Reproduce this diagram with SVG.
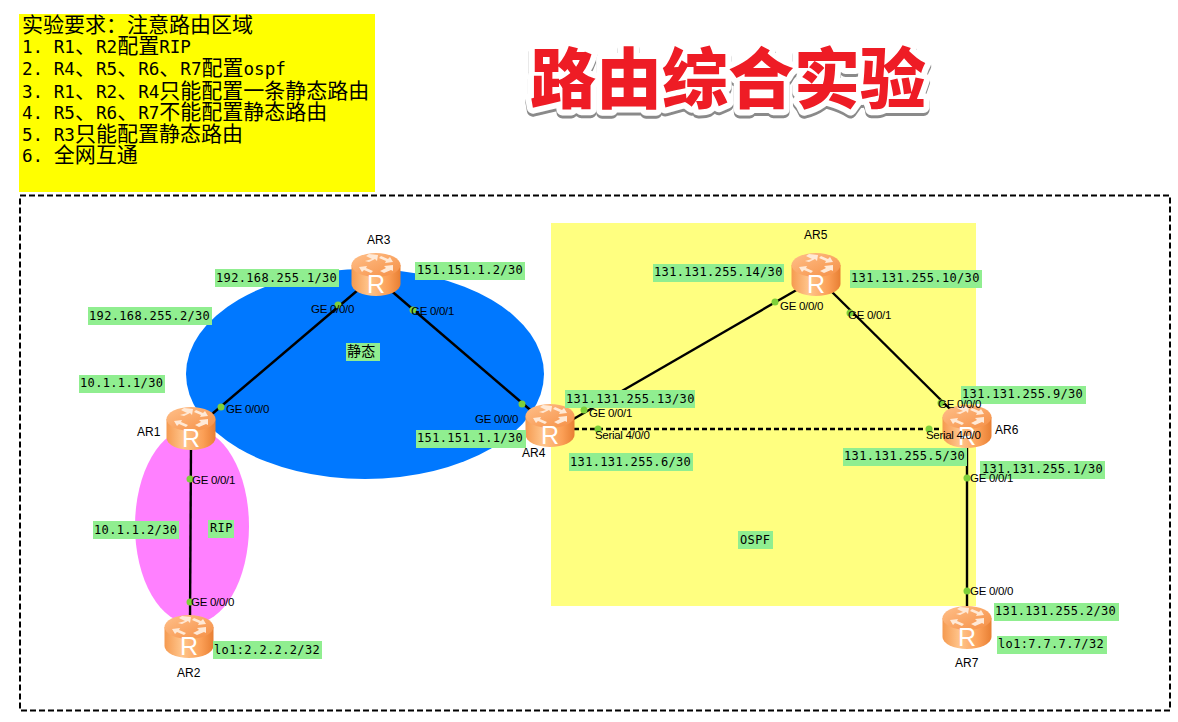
<svg xmlns="http://www.w3.org/2000/svg" width="1178" height="722" viewBox="0 0 1178 722">
<style>
.req{font-family:"DejaVu Sans Mono","Noto Sans CJK SC",monospace;font-size:17.6px;fill:#000}
.req tspan{font-family:"Noto Sans CJK SC",sans-serif;font-size:21px}
.title{font-family:"Noto Sans CJK SC",sans-serif;font-weight:900;font-size:66px;text-anchor:middle;stroke-linejoin:round;paint-order:stroke}
.bg{fill:#90ee90}
.ip{font-family:"DejaVu Sans Mono","Noto Sans CJK SC",monospace;font-size:12px;letter-spacing:.35px;fill:#000}
.port{font-family:"Liberation Sans",sans-serif;font-size:11.5px;fill:#000;letter-spacing:-.3px}
.name{font-family:"Liberation Sans",sans-serif;font-size:12px;fill:#000}
.link{stroke:#000;stroke-width:2.400;fill:none}
.dash{stroke-dasharray:5 3}
.dot{fill:#7ed03a}
</style>
<defs>
<linearGradient id="side" x1="0" x2="1" y1="0" y2="0"><stop offset="0" stop-color="#f59a50"/><stop offset=".35" stop-color="#ffc58c"/><stop offset=".75" stop-color="#fb9f56"/><stop offset="1" stop-color="#e87f33"/></linearGradient>
<linearGradient id="top" x1="0" x2="1" y1="0" y2="1"><stop offset="0" stop-color="#ffc08a"/><stop offset="1" stop-color="#f58f45"/></linearGradient>
<g id="router">
<path d="M-24.500-10V9A24.500 12 0 0 0 24.500 9V-10Z" fill="url(#side)"/>
<ellipse cx="0" cy="-10" rx="24.500" ry="12" fill="url(#top)"/>
<path d="M-4-16l-6-3 3-2 9 1-1 6-2-2-6 3-4-1zM5-19l7 3 2-2 3 5-8 1 1-2-7-3zM-5-2l-7-3-2 2-3-5 8-1-1 2 7 3zM4-4l6-3-2-2 9-1 0 6-2-1-7 3z" fill="#ffe9d6"/>
<text x="0" y="18" font-family="Liberation Sans,sans-serif" font-size="25" fill="#fff" text-anchor="middle">R</text>
</g>
</defs>

<g id="requirements">
<rect x="19" y="14" width="356" height="178" fill="#ff0"/>
<text class="req" x="22" y="32"><tspan>实验要求：注意路由区域</tspan></text>
<text class="req" x="22" y="53">1. R1<tspan>、</tspan>R2<tspan>配置</tspan>RIP</text>
<text class="req" x="22" y="75">2. R4<tspan>、</tspan>R5<tspan>、</tspan>R6<tspan>、</tspan>R7<tspan>配置</tspan>ospf</text>
<text class="req" x="22" y="98">3. R1<tspan>、</tspan>R2<tspan>、</tspan>R4<tspan>只能配置一条静态路由</tspan></text>
<text class="req" x="22" y="119">4. R5<tspan>、</tspan>R6<tspan>、</tspan>R7<tspan>不能配置静态路由</tspan></text>
<text class="req" x="22" y="141">5. R3<tspan>只能配置静态路由</tspan></text>
<text class="req" x="22" y="162">6. <tspan>全网互通</tspan></text>
</g>

<g id="title">
<text class="title" x="728" y="106" fill="#8a8a8a" stroke="#8a8a8a" stroke-width="12">路由综合实验</text>
<text class="title" x="728" y="103" fill="#ee1c25" stroke="#fff" stroke-width="12">路由综合实验</text>
</g>

<g id="areas">
<rect x="20" y="195.500" width="1150" height="515" fill="#fff" stroke="#000" stroke-width="2" stroke-dasharray="6 3"/>
<rect x="551" y="223" width="425" height="383" fill="#ffff80"/>
<ellipse cx="365" cy="374" rx="179" ry="105" fill="#0078ff"/>
<ellipse cx="192" cy="526" rx="57" ry="98" fill="#ff80ff"/>
</g>

<g id="connectors">
<path class="link" d="M205 420L365 284"/>
<path class="link" d="M388 288L535 414"/>
<path class="link" d="M570 421L800 288"/>
<path class="link" d="M828 288L955 414"/>
<path class="link dash" d="M574 429H940"/>
<path class="link" d="M191 445L190 620"/>
<path class="link" d="M967 445V610"/>
</g>

<g id="AR1"><use href="#router" x="191" y="429"/><text class="name" x="137" y="436">AR1</text></g>
<g id="AR2"><use href="#router" x="189" y="637"/><text class="name" x="177" y="677">AR2</text></g>
<g id="AR3"><use href="#router" x="376" y="275"/><text class="name" x="367" y="244">AR3</text></g>
<g id="AR4"><use href="#router" x="550" y="426"/><text class="name" x="522" y="457">AR4</text></g>
<g id="AR5"><use href="#router" x="816" y="275"/><text class="name" x="804" y="239">AR5</text></g>
<g id="AR6"><use href="#router" x="967" y="427"/><text class="name" x="995" y="434">AR6</text></g>
<g id="AR7"><use href="#router" x="967" y="628"/><text class="name" x="955" y="667">AR7</text></g>

<g id="ip-labels">
<rect class="bg" x="215" y="269" width="124" height="18"/><text class="ip" x="216" y="282">192.168.255.1/30</text>
<rect class="bg" x="415" y="262" width="110" height="18"/><text class="ip" x="417" y="274">151.151.1.2/30</text>
<rect class="bg" x="88" y="307" width="124" height="18"/><text class="ip" x="89" y="320">192.168.255.2/30</text>
<rect class="bg" x="79" y="375" width="86" height="18"/><text class="ip" x="80" y="387">10.1.1.1/30</text>
<rect class="bg" x="93" y="521" width="86" height="18"/><text class="ip" x="94" y="534">10.1.1.2/30</text>
<rect class="bg" x="213" y="641" width="109" height="18"/><text class="ip" x="214" y="654">lo1:2.2.2.2/32</text>
<rect class="bg" x="208" y="520" width="26" height="18"/><text class="ip" x="210" y="532">RIP</text>
<rect class="bg" x="346" y="343" width="34" height="18"/><text class="ip" x="347" y="356" style="font-family:'Noto Sans CJK SC',sans-serif;font-size:14px">静态</text>
<rect class="bg" x="416" y="430" width="110" height="18"/><text class="ip" x="417" y="442">151.151.1.1/30</text>
<rect class="bg" x="565" y="390" width="130" height="18"/><text class="ip" x="566" y="403">131.131.255.13/30</text>
<rect class="bg" x="569" y="453" width="124" height="18"/><text class="ip" x="570" y="466">131.131.255.6/30</text>
<rect class="bg" x="653" y="264" width="131" height="18"/><text class="ip" x="654" y="276">131.131.255.14/30</text>
<rect class="bg" x="850" y="270" width="132" height="18"/><text class="ip" x="851" y="282">131.131.255.10/30</text>
<rect class="bg" x="961" y="386" width="125" height="18"/><text class="ip" x="962" y="398">131.131.255.9/30</text>
<rect class="bg" x="843" y="448" width="124" height="18"/><text class="ip" x="844" y="460">131.131.255.5/30</text>
<rect class="bg" x="980" y="461" width="125" height="18"/><text class="ip" x="982" y="473">131.131.255.1/30</text>
<rect class="bg" x="994" y="603" width="125" height="18"/><text class="ip" x="995" y="615">131.131.255.2/30</text>
<rect class="bg" x="997" y="636" width="110" height="18"/><text class="ip" x="998" y="648">lo1:7.7.7.7/32</text>
<rect class="bg" x="738" y="531" width="35" height="18"/><text class="ip" x="740" y="544">OSPF</text>
</g>

<g id="port-dots">
<circle class="dot" cx="221" cy="407" r="3.500"/>
<circle class="dot" cx="338" cy="305" r="3.500"/>
<circle class="dot" cx="413" cy="310" r="3.500"/>
<circle class="dot" cx="522" cy="404" r="3.500"/>
<circle class="dot" cx="584" cy="410" r="3.500"/>
<circle class="dot" cx="598" cy="429" r="3.500"/>
<circle class="dot" cx="775" cy="302" r="3.500"/>
<circle class="dot" cx="850" cy="313" r="3.500"/>
<circle class="dot" cx="941" cy="403" r="3.500"/>
<circle class="dot" cx="929" cy="429" r="3.500"/>
<circle class="dot" cx="967" cy="478" r="3.500"/>
<circle class="dot" cx="967" cy="591" r="3.500"/>
<circle class="dot" cx="190" cy="479" r="3.500"/>
<circle class="dot" cx="190" cy="602" r="3.500"/>
</g>

<g id="port-labels">
<text class="port" x="226" y="413">GE 0/0/0</text>
<text class="port" x="311" y="313">GE 0/0/0</text>
<text class="port" x="411" y="315">GE 0/0/1</text>
<text class="port" x="475" y="423">GE 0/0/0</text>
<text class="port" x="589" y="417">GE 0/0/1</text>
<text class="port" x="595" y="439">Serial 4/0/0</text>
<text class="port" x="780" y="310">GE 0/0/0</text>
<text class="port" x="848" y="319">GE 0/0/1</text>
<text class="port" x="938" y="408">GE 0/0/0</text>
<text class="port" x="926" y="439">Serial 4/0/0</text>
<text class="port" x="970" y="482">GE 0/0/1</text>
<text class="port" x="970" y="595">GE 0/0/0</text>
<text class="port" x="192" y="484">GE 0/0/1</text>
<text class="port" x="191" y="606">GE 0/0/0</text>
</g>
</svg>
